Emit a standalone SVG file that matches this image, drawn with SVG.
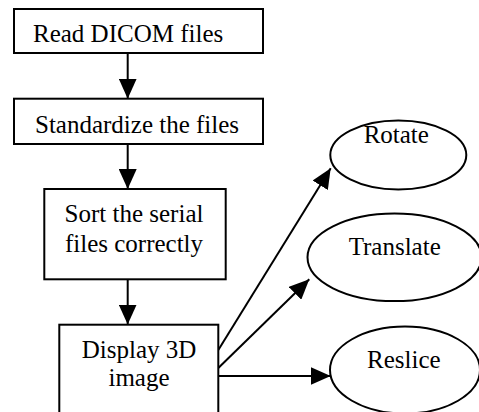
<svg xmlns="http://www.w3.org/2000/svg" width="479" height="412" viewBox="0 0 479 412">
<defs>
<style>
.box{fill:#fff;stroke:#000;stroke-width:2}
.ell{fill:#fff;stroke:#000;stroke-width:2}
text{font-family:'Liberation Serif','DejaVu Serif',serif;font-size:25px;fill:#000}
.c{stroke:#000;stroke-width:2;fill:none;marker-end:url(#ah)}
</style>
<marker id="ah" markerUnits="userSpaceOnUse" markerWidth="20" markerHeight="18" refX="20" refY="9" orient="auto" viewBox="0 0 20 18">
<path d="M0,0 L20,9 L0,18 z" fill="#000"/>
</marker>
</defs>
<rect width="479" height="412" fill="#fff"/>
<g id="connectors">
<line class="c" x1="127.7" y1="53" x2="127.7" y2="98.7"/>
<line class="c" x1="127.7" y1="144" x2="127.7" y2="189"/>
<line class="c" x1="127.7" y1="279.3" x2="127.7" y2="324.5"/>
<line class="c" x1="218.3" y1="350" x2="330.7" y2="168.3"/>
<line class="c" x1="218.3" y1="368" x2="309.3" y2="279.3"/>
<line class="c" x1="218.3" y1="376" x2="330.7" y2="376"/>
</g>
<g id="read">
<rect class="box" x="14" y="9" width="249" height="44"/>
<text x="33" y="41.7" font-family="Liberation Serif, serif">Read DICOM files</text>
</g>
<g id="standardize">
<rect class="box" x="14" y="98.7" width="249" height="45.3"/>
<text x="35" y="133.3" font-family="Liberation Serif, serif">Standardize the files</text>
</g>
<g id="sort">
<rect class="box" x="44.3" y="189" width="181.4" height="90.3"/>
<text x="134" y="221.7" text-anchor="middle" font-family="Liberation Serif, serif">Sort the serial</text>
<text x="134" y="251.7" text-anchor="middle" font-family="Liberation Serif, serif">files correctly</text>
</g>
<g id="display">
<rect class="box" x="59.3" y="324.7" width="159" height="100"/>
<text x="139" y="358" text-anchor="middle" font-family="Liberation Serif, serif">Display 3D</text>
<text x="139" y="385.5" text-anchor="middle" font-family="Liberation Serif, serif">image</text>
</g>
<g id="rotate">
<ellipse class="ell" cx="398.3" cy="155" rx="68" ry="34.5"/>
<text x="396.3" y="142.5" text-anchor="middle" font-family="Liberation Serif, serif">Rotate</text>
</g>
<g id="translate">
<ellipse class="ell" cx="394.5" cy="257.3" rx="87" ry="43.8"/>
<text x="394.7" y="255" text-anchor="middle" font-family="Liberation Serif, serif">Translate</text>
</g>
<g id="reslice">
<ellipse class="ell" cx="405" cy="370" rx="75" ry="43.5"/>
<text x="403.8" y="368.3" text-anchor="middle" font-family="Liberation Serif, serif">Reslice</text>
</g>
</svg>
